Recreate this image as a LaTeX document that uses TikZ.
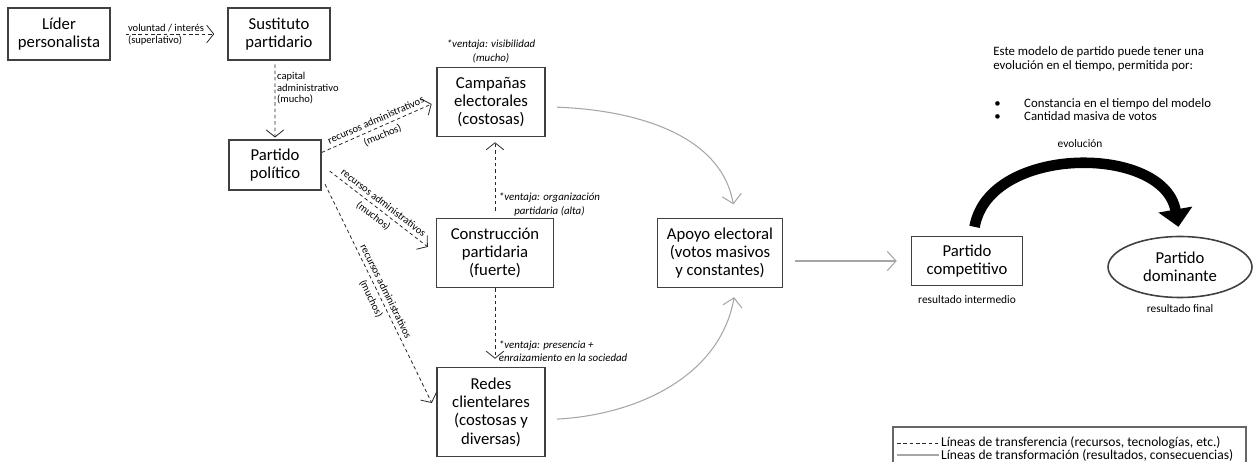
\documentclass[tikz,border=0pt]{standalone}
\usepackage{fontspec}
\setmainfont{Carlito}
\usetikzlibrary{arrows.meta,shapes.geometric}

\begin{document}
\begin{tikzpicture}[x=0.02cm,y=-0.02cm,
    caja/.style={draw=black!75,line width=0.9pt,align=center,inner sep=1pt,
      font=\fontsize{9.5}{10.4}\selectfont},
    transferencia/.style={draw=black!85,line width=0.45pt,dash pattern=on 2pt off 1.6pt,
      -{Straight Barb[length=4pt,width=10pt]}},
    transformacion/.style={draw=black!35,line width=0.6pt,
      -{Straight Barb[length=5pt,width=11pt]}},
    evolucion/.style={draw=black,line width=6pt,-{Triangle[length=10pt,width=19pt]}},
    etiqueta/.style={font=\fontsize{6}{6.6}\selectfont,inner sep=1pt},
    inclinada/.style={etiqueta,sloped,inner sep=2.2pt},
    ventaja/.style={font=\fontsize{6.2}{7.8}\selectfont\itshape,inner sep=2pt},
    nota/.style={font=\fontsize{6.5}{8.5}\selectfont,align=left,inner sep=0pt},
    texto/.style={font=\fontsize{7.3}{8.5}\selectfont,align=left,inner sep=0pt},
    leyenda/.style={font=\fontsize{7.7}{8}\selectfont,inner sep=1pt}]
  \useasboundingbox (0,0) rectangle (1253,462);

  \node[caja,minimum width=2.04cm,minimum height=1.04cm] (lider) at (59,34) {Líder\\personalista};
  \node[caja,minimum width=2.04cm,minimum height=1.04cm] (sustituto) at (279,34) {Sustituto\\partidario};
  \node[caja,minimum width=1.84cm,minimum height=1.0cm] (partido) at (275,165) {Partido\\político};
  \node[caja,minimum width=2.16cm,minimum height=1.38cm] (campanas) at (491,102) {Campañas\\electorales\\(costosas)};
  \node[caja,minimum width=2.34cm,minimum height=1.38cm] (construccion) at (495,253) {Construcción\\partidaria\\(fuerte)};
  \node[caja,minimum width=2.16cm,minimum height=1.78cm] (redes) at (491,412) {Redes\\clientelares\\(costosas y\\diversas)};
  \node[caja,minimum width=2.5cm,minimum height=1.38cm] (apoyo) at (720,253) {Apoyo electoral\\(votos masivos\\y constantes)};
  \node[caja,minimum width=2.22cm,minimum height=0.98cm] (competitivo) at (967,261) {Partido\\competitivo};
  \node[caja,ellipse,minimum width=2.88cm,minimum height=1.22cm] (dominante) at (1180,267) {Partido\\dominante};

  \node[ventaja,anchor=south,align=center] (visibilidad) at (campanas.north) {*ventaja: visibilidad\\(mucho)};
  \node[nota] (intermedio) at ([yshift=-0.26cm]competitivo.south) {resultado intermedio};
  \node[nota] (final) at ([yshift=-0.2cm]dominante.south) {resultado final};

  \node[texto,anchor=base west] (modelo) at (993,70) {Este modelo de partido puede tener una\\evolución en el tiempo, permitida por:};
  \node[texto,anchor=base west] (punto1) at (994,108) {\makebox[17pt][l]{\textbullet}Constancia en el tiempo del modelo};
  \node[texto,anchor=base west] (punto2) at (994,121) {\makebox[17pt][l]{\textbullet}Cantidad masiva de votos};
  \node[nota] (evol) at (1080,144) {evolución};

  \draw[transferencia,shorten <=0.3cm,shorten >=0.26cm] (lider) -- (sustituto)
    node[etiqueta,anchor=south west,pos=0.13] {voluntad / interés}
    node[etiqueta,anchor=north west,pos=0.13] {(superlativo)};
  \draw[transferencia,shorten <=2pt,shorten >=1pt] ([xshift=-0.08cm]sustituto.south) -- (partido.north)
    node[etiqueta,right,pos=0.35,align=left] {capital\\administrativo\\(mucho)};

  \begin{scope}[shorten >=0.1cm]
    \draw[transferencia] (partido.15) -- (campanas.west)
      node[inclinada,above,midway] {recursos administrativos}
      node[inclinada,below,midway] {(muchos)};
    \draw[transferencia,shorten <=0.2cm,shorten >=0.2cm] (partido.east) -- (construccion.west)
      node[inclinada,above,midway] {recursos administrativos}
      node[inclinada,below,midway] {(muchos)};
    \draw[transferencia,shorten <=0.15cm,shorten >=0.2cm] (partido.-15) -- (redes.west)
      node[inclinada,above,midway] {recursos administrativos}
      node[inclinada,below,midway] {(muchos)};
  \end{scope}

  \draw[transferencia,shorten <=0.14cm,shorten >=0.1cm] (construccion.north) -- (construccion.north |- campanas.south)
    node[ventaja,anchor=west,pos=0.165,align=center] {*ventaja: organización\\partidaria (alta)};
  \draw[transferencia,shorten >=0.16cm] (construccion.south) -- (construccion.south |- redes.north)
    node[ventaja,anchor=west,pos=0.8,align=left] {*ventaja: presencia +\\enraizamiento en la sociedad};

  \draw[transformacion,shorten <=0.22cm,shorten >=0.27cm] (campanas.-5) to[out=-2,in=100] (apoyo.66);
  \draw[transformacion,shorten <=0.22cm,shorten >=0.18cm] (redes.-8) to[out=3,in=-100] (apoyo.-66);
  \draw[transformacion,shorten <=0.24cm,shorten >=0.28cm] (competitivo.west -| apoyo.east) -- (competitivo.west);

  \draw[evolucion,shorten <=0.18cm,shorten >=0.18cm] ([xshift=0.12cm]competitivo.north)
    to[out=80,in=100,looseness=1.15] (dominante.north);

  \draw[draw=black!60,line width=0.6pt] (893,427) rectangle (1246,475);
  \coordinate (l1) at (897,443);
  \coordinate (l2) at (897,455);
  \node[leyenda,anchor=west] (ley1) at (939,443) {Líneas de transferencia (recursos, tecnologías, etc.)};
  \node[leyenda,anchor=west] (ley2) at (939,455) {Líneas de transformación (resultados, consecuencias)};
  \draw[draw=black!85,line width=0.45pt,dash pattern=on 2pt off 1.6pt] (l1) -- (ley1.west);
  \draw[draw=black!35,line width=0.6pt] (l2) -- (ley2.west);
\end{tikzpicture}
\end{document}
